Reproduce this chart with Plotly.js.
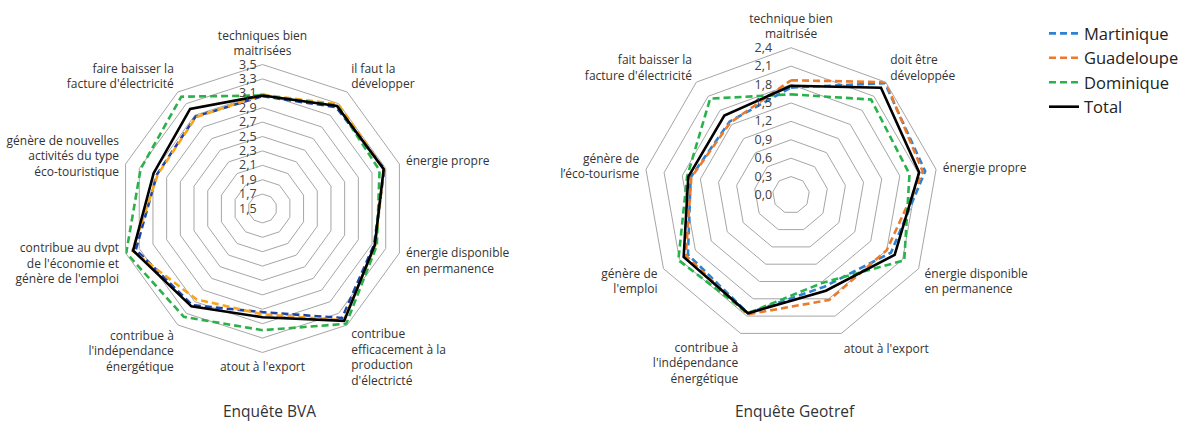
<!DOCTYPE html>
<html>
<head>
<meta charset="utf-8">
<script src="https://cdn.plot.ly/plotly-3.0.1.min.js"></script>
<style>
  body { margin: 0; background: #fff; }
  #chart { width: 1184px; height: 424px; }
</style>
</head>
<body>
<div id="chart"></div>
<script>
let bvaCats = [
  'techniques bien<br>maitrisées',
  'il faut la<br>développer',
  'énergie propre',
  'énergie disponible<br>en permanence',
  'contribue<br>efficacement à la<br>production<br>d\'électricté',
  'atout à l\'export',
  'contribue à<br>l\'indépendance<br>énergétique',
  'contribue au dvpt<br>de l\'économie et<br>génère de l\'emploi',
  'génère de nouvelles<br>activités du type<br>éco-touristique',
  'faire baisser la<br>facture d\'électricité'
]
let bvaMartinique = [3.06, 3.24, 3.28, 3.13, 3.38, 2.94, 3.16, 3.35, 3.04, 3.08]
let bvaGuadeloupe = [3.08, 3.29, 3.27, 3.15, 3.42, 2.97, 3.06, 3.40, 3.03, 3.07]
let bvaDominique = [3.07, 3.27, 3.21, 3.17, 3.48, 3.19, 3.36, 3.49, 3.28, 3.42]
let bvaTotal = [3.07, 3.26, 3.27, 3.14, 3.43, 3.01, 3.18, 3.39, 3.09, 3.21]

let geoCats = [
  'technique bien<br>maitrisée',
  'doit être<br>développée',
  'énergie propre',
  'énergie disponible<br>en permanence',
  'atout à l\'export',
  'contribue à<br>l\'indépendance<br>énergétique',
  'génère de<br>l\'emploi',
  'génère de<br>l’éco-tourisme',
  'fait baisser la<br>facture d\'électricité'
]
let geoMartinique = [1.75, 2.38, 2.22, 1.88, 1.59, 2.05, 1.94, 1.66, 1.56]
let geoGuadeloupe = [1.87, 2.40, 2.18, 1.80, 1.82, 2.07, 1.98, 1.65, 1.54]
let geoDominique = [1.64, 2.03, 1.96, 2.13, 1.52, 2.05, 2.12, 1.72, 2.05]
let geoTotal = [1.78, 2.28, 2.12, 1.95, 1.66, 2.05, 2.02, 1.70, 1.69]

let seriesNames = ['Martinique', 'Guadeloupe', 'Dominique', 'Total']

function closed(arr) {
  return arr.concat([arr[0]])
}

function trace(name, cats, vals, color, dash, subplot, legend) {
  return {
    type: 'scatterpolar',
    mode: 'lines',
    name: name,
    r: closed(vals),
    theta: closed(cats),
    subplot: subplot,
    showlegend: legend,
    line: { color: color, width: 2.6, dash: dash },
    hoverinfo: 'skip'
  }
}

let data = [
  trace(seriesNames[0], bvaCats, bvaMartinique, '#1f43a8', '7px,4px', 'polar', false),
  trace(seriesNames[1], bvaCats, bvaGuadeloupe, '#f9a51a', '7px,4px', 'polar', false),
  trace(seriesNames[2], bvaCats, bvaDominique, '#2bb04a', '7px,4px', 'polar', false),
  trace(seriesNames[3], bvaCats, bvaTotal, '#000000', 'solid', 'polar', false),
  trace(seriesNames[0], geoCats, geoMartinique, '#2e82d2', '7px,4px', 'polar2', true),
  trace(seriesNames[1], geoCats, geoGuadeloupe, '#ec7a2c', '7px,4px', 'polar2', true),
  trace(seriesNames[2], geoCats, geoDominique, '#27b34b', '7px,4px', 'polar2', true),
  trace(seriesNames[3], geoCats, geoTotal, '#000000', 'solid', 'polar2', true)
]

let fontFam = '"Open Sans", "Noto Sans", sans-serif'

function radial(range, dtick, standoff) {
  return {
    range: range,
    dtick: dtick,
    tick0: range[0],
    angle: 90,
    tickangle: 90,
    side: 'counterclockwise',
    showline: false,
    ticks: 'outside',
    ticklen: standoff,
    tickcolor: 'rgba(0,0,0,0)',
    tickformat: '.1f',
    gridcolor: '#a6a6a6',
    gridwidth: 1,
    tickfont: { size: 12.5, color: '#404040' }
  }
}

function angular() {
  return {
    direction: 'clockwise',
    rotation: 90,
    showgrid: false,
    linecolor: '#a6a6a6',
    linewidth: 1,
    ticks: 'outside',
    ticklen: 4,
    tickcolor: 'rgba(0,0,0,0)',
    tickfont: { size: 12, color: '#333333' }
  }
}

let layout = {
  width: 1184,
  height: 424,
  margin: { l: 0, r: 0, t: 0, b: 0 },
  paper_bgcolor: '#ffffff',
  separators: ',.',
  font: { family: fontFam, color: '#333333' },
  polar: {
    domain: { x: [0.1001, 0.3433], y: [0.1686, 0.8479] },
    gridshape: 'linear',
    bgcolor: '#ffffff',
    radialaxis: radial([1.5, 3.5], 0.2, 1),
    angularaxis: angular()
  },
  polar2: {
    domain: { x: [0.5437, 0.7925], y: [0.1927, 0.8875] },
    gridshape: 'linear',
    bgcolor: '#ffffff',
    radialaxis: radial([0, 2.4], 0.3, 14),
    angularaxis: angular()
  },
  legend: {
    x: 0.8818,
    y: 0.962,
    xanchor: 'left',
    yanchor: 'top',
    font: { size: 16.5, color: '#222222' },
    tracegroupgap: 0
  },
  annotations: [
    { text: 'Enquête BVA', x: 0.228, y: 0.0307, xref: 'paper', yref: 'paper',
      xanchor: 'center', yanchor: 'middle',
      showarrow: false, font: { size: 15.5, color: '#333333' } },
    { text: 'Enquête Geotref', x: 0.6715, y: 0.0307, xref: 'paper', yref: 'paper',
      xanchor: 'center', yanchor: 'middle',
      showarrow: false, font: { size: 15.5, color: '#333333' } }
  ]
}

Plotly.newPlot('chart', data, layout, { displayModeBar: false, staticPlot: true })
</script>
</body>
</html>
